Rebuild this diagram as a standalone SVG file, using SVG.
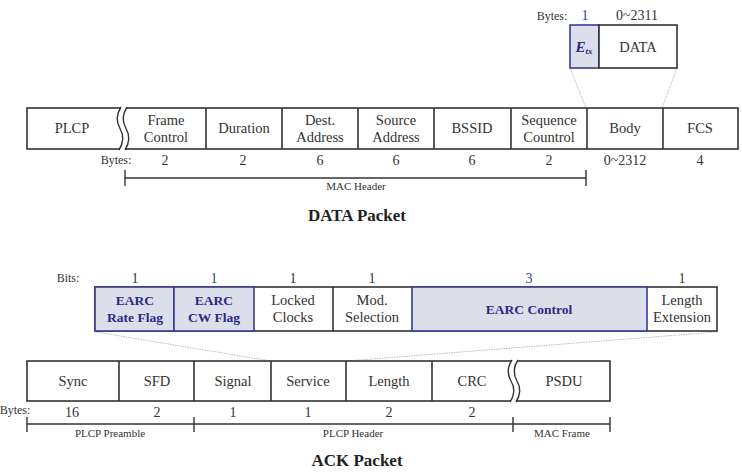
<svg xmlns="http://www.w3.org/2000/svg" width="742" height="474" viewBox="0 0 742 474" font-family="'Liberation Serif', 'Times New Roman', Times, serif">
<style>
text{font-family:"Liberation Serif",Tinos,"Times New Roman",Times,serif;fill:#333;text-anchor:middle}
.c{fill:#fff;stroke:#333;stroke-width:1.6}
.b{fill:#dcdfe9;stroke:#3a3a96;stroke-width:1.6}
.l{font-size:14.5px}
.n{font-size:14px}
.s{font-size:12px}
.t{font-size:11px}
.h{font-size:17px;font-weight:bold;fill:#222}
.e{font-size:13.5px;font-weight:bold;fill:#2a2a88}
.blue{fill:#3a3aa0}
.dot{stroke:#aaa;stroke-width:0.8;stroke-dasharray:1.5 1;fill:none}
.bar{stroke:#333;stroke-width:1.4;fill:none}
.sq{fill:#fff;stroke:none}
.sql{fill:none;stroke:#333;stroke-width:1.4}
</style>

<g id="connectors">
<line class="dot" x1="570" y1="68" x2="586" y2="108"/>
<line class="dot" x1="677" y1="68" x2="662" y2="108"/>
<line class="dot" x1="96" y1="332" x2="271" y2="361"/>
<line class="dot" x1="717" y1="332" x2="346" y2="361"/>
</g>

<g id="data-body-detail">
<text class="s" x="552" y="20">Bytes:</text>
<text class="n blue" x="585" y="20">1</text>
<text class="n" x="637" y="20">0~2311</text>
<rect class="b" x="570" y="25" width="29" height="43"/>
<rect class="c" x="599" y="25" width="78" height="43"/>
<text x="584" y="52" style="font-size:15px;font-weight:bold;font-style:italic;fill:#2a2a88">E<tspan style="font-size:9px" dy="2">tx</tspan></text>
<text class="l" x="638" y="52">DATA</text>
</g>

<g id="data-packet">
<rect class="c" x="27" y="108" width="711" height="41"/>
<line class="c" x1="206" y1="108" x2="206" y2="149"/>
<line class="c" x1="282" y1="108" x2="282" y2="149"/>
<line class="c" x1="358" y1="108" x2="358" y2="149"/>
<line class="c" x1="434" y1="108" x2="434" y2="149"/>
<line class="c" x1="511" y1="108" x2="511" y2="149"/>
<line class="c" x1="587" y1="108" x2="587" y2="149"/>
<line class="c" x1="663" y1="108" x2="663" y2="149"/>
<path class="sq" d="M121,107 Q114,118 120,128.5 Q126,139 119,150 L125,150 Q132,139 126,128.5 Q120,118 127,107 Z"/>
<path class="sql" d="M121,107 Q114,118 120,128.5 Q126,139 119,150"/>
<path class="sql" d="M127,107 Q120,118 126,128.5 Q132,139 125,150"/>
<text class="l" x="72" y="133">PLCP</text>
<text class="l" x="166" y="125">Frame</text>
<text class="l" x="166" y="142">Control</text>
<text class="l" x="244" y="133">Duration</text>
<text class="l" x="320" y="125">Dest.</text>
<text class="l" x="320" y="142">Address</text>
<text class="l" x="396" y="125">Source</text>
<text class="l" x="396" y="142">Address</text>
<text class="l" x="472" y="133">BSSID</text>
<text class="l" x="549" y="125">Sequence</text>
<text class="l" x="549" y="142">Countrol</text>
<text class="l" x="625" y="133">Body</text>
<text class="l" x="700" y="133">FCS</text>
<text class="s" x="116" y="164">Bytes:</text>
<text class="n" x="165" y="165">2</text>
<text class="n" x="243" y="165">2</text>
<text class="n" x="320" y="165">6</text>
<text class="n" x="396" y="165">6</text>
<text class="n" x="472" y="165">6</text>
<text class="n" x="549" y="165">2</text>
<text class="n" x="625" y="165">0~2312</text>
<text class="n" x="700" y="165">4</text>
<path class="bar" d="M125,170 V186 M125,178 H586 M586,170 V186"/>
<text class="t" x="356" y="190">MAC Header</text>
<text class="h" x="357" y="221">DATA Packet</text>
</g>

<g id="ack-service-bits">
<text class="s" x="68" y="282">Bits:</text>
<text class="n" x="135" y="283">1</text>
<text class="n blue" x="214" y="283">1</text>
<text class="n" x="293" y="283">1</text>
<text class="n" x="372" y="283">1</text>
<text class="n blue" x="529" y="283">3</text>
<text class="n" x="682" y="283">1</text>
<rect class="c" x="95" y="287" width="622" height="44"/>
<rect class="b" x="95" y="287" width="79" height="44"/>
<rect class="b" x="174" y="287" width="80" height="44"/>
<line class="c" x1="333" y1="287" x2="333" y2="331"/>
<rect class="b" x="412" y="287" width="235" height="44"/>
<text class="e" x="135" y="305">EARC</text>
<text class="e" x="135" y="322">Rate Flag</text>
<text class="e" x="214" y="305">EARC</text>
<text class="e" x="214" y="322">CW Flag</text>
<text class="l" x="293" y="305">Locked</text>
<text class="l" x="293" y="322">Clocks</text>
<text class="l" x="372" y="305">Mod.</text>
<text class="l" x="372" y="322">Selection</text>
<text class="e" x="529" y="314">EARC Control</text>
<text class="l" x="682" y="305">Length</text>
<text class="l" x="682" y="322">Extension</text>
</g>

<g id="ack-packet">
<rect class="c" x="27" y="361" width="583" height="40"/>
<line class="c" x1="119" y1="361" x2="119" y2="401"/>
<line class="c" x1="194" y1="361" x2="194" y2="401"/>
<line class="c" x1="271" y1="361" x2="271" y2="401"/>
<line class="c" x1="346" y1="361" x2="346" y2="401"/>
<line class="c" x1="432" y1="361" x2="432" y2="401"/>
<path class="sq" d="M512,360 Q505,370 511,381 Q517,391 510,402 L516,402 Q523,391 517,381 Q511,370 518,360 Z"/>
<path class="sql" d="M512,360 Q505,370 511,381 Q517,391 510,402"/>
<path class="sql" d="M518,360 Q511,370 517,381 Q523,391 516,402"/>
<text class="l" x="73" y="386">Sync</text>
<text class="l" x="157" y="386">SFD</text>
<text class="l" x="233" y="386">Signal</text>
<text class="l" x="308" y="386">Service</text>
<text class="l" x="389" y="386">Length</text>
<text class="l" x="472" y="386">CRC</text>
<text class="l" x="564" y="386">PSDU</text>
<text class="s" x="15" y="414">Bytes:</text>
<text class="n" x="72" y="417">16</text>
<text class="n" x="157" y="417">2</text>
<text class="n" x="233" y="417">1</text>
<text class="n" x="308" y="417">1</text>
<text class="n" x="389" y="417">2</text>
<text class="n" x="472" y="417">2</text>
<path class="bar" d="M27,417 V432 M27,424 H610 M194,417 V432 M513,417 V432 M610,417 V432"/>
<text class="t" x="110" y="437">PLCP Preamble</text>
<text class="t" x="353" y="437">PLCP Header</text>
<text class="t" x="562" y="437">MAC Frame</text>
<text class="h" x="357" y="466">ACK Packet</text>
</g>
</svg>
